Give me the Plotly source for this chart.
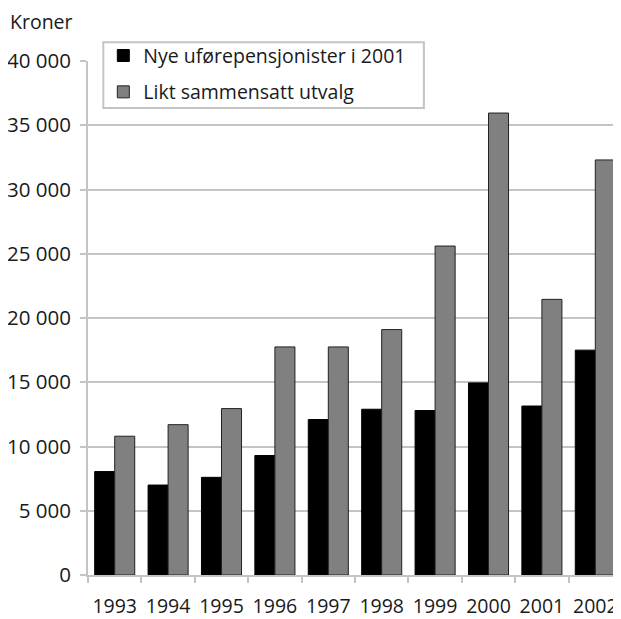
import plotly.graph_objects as go

# data
years = ["1993", "1994", "1995", "1996", "1997", "1998", "1999", "2000", "2001", "2002"]
nye = [8050, 7000, 7600, 9300, 12100, 12900, 12800, 14950, 13150, 17500]
likt = [10800, 11700, 12950, 17750, 17750, 19100, 25600, 35950, 21450, 32300]
yticks = [0, 5000, 10000, 15000, 20000, 25000, 30000, 35000, 40000]
yticktext = [f"{v:,}".replace(",", " ") for v in yticks]

font = "Open Sans, Noto Sans, sans-serif"
grid = "#c4c4c4"

fig = go.Figure()
fig.add_trace(go.Bar(x=years, y=nye, name="Nye uførepensjonister i 2001", legendgroup="a",
                     marker=dict(color="#000000", line=dict(color="#000000", width=1))))
fig.add_trace(go.Bar(x=years, y=likt, name="Likt sammensatt utvalg", legendgroup="b",
                     marker=dict(color="#808080", line=dict(color="#222222", width=1))))

fig.update_layout(
    width=621, height=619,
    margin=dict(l=80, r=7, t=53, b=52),
    plot_bgcolor="white", paper_bgcolor="white",
    barmode="group", bargap=0.25, bargroupgap=0,
    font=dict(family=font, size=19.5, color="#1a1a1a"),
    legend=dict(x=0.0287, y=1.048, xanchor="left", yanchor="top",
                borderwidth=0, bgcolor="rgba(0,0,0,0)",
                font=dict(size=19.5), tracegroupgap=8),
    # legend frame
    shapes=[dict(type="rect", xref="paper", yref="paper", x0=0.0287, x1=0.629,
                 y0=0.9086, y1=1.0364, line=dict(color=grid, width=2),
                 fillcolor="white", layer="above")],
    annotations=[dict(text="Kroner", x=-0.1498, y=1.0759, xref="paper", yref="paper",
                      xanchor="left", yanchor="middle", showarrow=False,
                      font=dict(size=19.5))],
)

fig.update_xaxes(range=[-0.5, 9.5], showline=True, linecolor=grid, linewidth=2,
                 ticks="outside", tickson="boundaries", ticklen=6, tickcolor=grid,
                 tickwidth=2, showgrid=False, ticklabelstandoff=13, tickangle=0,
                 automargin=False)
fig.update_yaxes(range=[0, 40000], tickvals=yticks, ticktext=yticktext, showline=True,
                 linecolor=grid, linewidth=2, ticks="outside", ticklen=6,
                 tickcolor=grid, tickwidth=2, gridcolor=grid, gridwidth=2,
                 tickfont=dict(size=20.5), zeroline=False, ticklabelstandoff=5,
                 automargin=False)

fig.write_html("out.html")
